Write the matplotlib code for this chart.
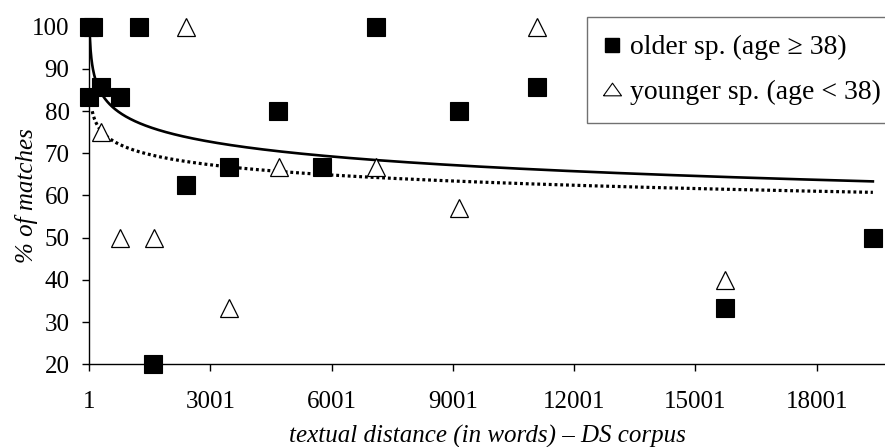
import matplotlib
matplotlib.use("Agg")
import matplotlib.pyplot as plt
import numpy as np
from matplotlib.lines import Line2D

# older speakers (age >= 38)
older_dist = [1, 100, 1, 297, 767, 1237, 2399, 1583, 3462, 4674, 5753, 7094, 9143, 11092, 15737, 19390]
older_pct = [100, 100, 83.3, 85.7, 83.3, 100, 62.5, 20, 66.7, 80, 66.7, 100, 80, 85.7, 33.3, 50]

# younger speakers (age < 38)
younger_dist = [309, 779, 1603, 2400, 3462, 4691, 7098, 9143, 11092, 15737]
younger_pct = [75, 50, 50, 100, 33.3, 66.7, 66.7, 57.1, 100, 40]

# logarithmic trend lines: pct = a + b*ln(dist), over [start, end]
older_trend = [113.0, -5.03]
older_trend_span = [1, 19390]
younger_trend = [95.3, -3.5]
younger_trend_span = [80, 19390]

xticks = [1, 3001, 6001, 9001, 12001, 15001, 18001]
yticks = [20, 30, 40, 50, 60, 70, 80, 90, 100]

plt.rcParams['font.family'] = ['Liberation Serif', 'DejaVu Serif']
plt.rcParams['font.size'] = 18

fig = plt.figure(figsize=(8.85, 4.47), dpi=100)
ax = fig.add_axes([0.1006, 0.185, 0.8994, 0.7553])

# trend lines
t = np.linspace(older_trend_span[0], older_trend_span[1], 2000)
ax.plot(t, older_trend[0] + older_trend[1] * np.log(t), color='black', lw=1.9, zorder=2)
t = np.linspace(younger_trend_span[0], younger_trend_span[1], 2000)
ax.plot(t, younger_trend[0] + younger_trend[1] * np.log(t), color='black', lw=2.3,
        linestyle=(0, (0.9, 0.9)), zorder=2)

ax.plot(younger_dist, younger_pct, linestyle='none', marker='^', markersize=13.5,
        markerfacecolor='white', markeredgecolor='black', markeredgewidth=0.9,
        clip_on=False, zorder=3)
ax.plot(older_dist, older_pct, linestyle='none', marker='s', markersize=13,
        markerfacecolor='black', markeredgecolor='black', markeredgewidth=0.8,
        clip_on=False, zorder=4)

ax.set_xlim(1, 19690)
ax.set_ylim(20, 100)
ax.set_xticks(xticks)
ax.set_xticklabels([str(v) for v in xticks])
ax.set_yticks(yticks)
ax.set_yticklabels([str(v) for v in yticks])
ax.tick_params(axis='both', direction='out', length=5, width=1, colors='black')
ax.tick_params(axis='x', pad=14.5)
ax.tick_params(axis='y', pad=9)

for side in ['top', 'right']:
    ax.spines[side].set_visible(False)
for side in ['left', 'bottom']:
    ax.spines[side].set_linewidth(1)
    ax.spines[side].set_color('black')

ax.set_xlabel('textual distance (in words) – DS corpus', style='italic', labelpad=8)
ax.set_ylabel('% of matches', style='italic', labelpad=-4)

# legend symbols: small square, wide flat triangle
flat_triangle = [(-1, -0.7), (1, -0.7), (0, 0.7), (-1, -0.7)]
handles = [
    Line2D([], [], linestyle='none', marker='s', markersize=9.5,
           markerfacecolor='black', markeredgecolor='black'),
    Line2D([], [], linestyle='none', marker=flat_triangle, markersize=13,
           markerfacecolor='white', markeredgecolor='black', markeredgewidth=0.8),
]
leg = ax.legend(handles, ['older sp. (age ≥ 38)', 'younger sp. (age < 38)'],
                loc='upper left', bbox_to_anchor=(587 / 885, 1 - 17 / 447),
                bbox_transform=fig.transFigure, borderaxespad=0,
                frameon=True, fancybox=False, handlelength=0.5,
                handletextpad=0.4, labelspacing=0.67, borderpad=0.65,
                fontsize=20)
leg.get_frame().set_edgecolor('0.3')
leg.get_frame().set_linewidth(1)

fig.savefig('out.png', dpi=100)
